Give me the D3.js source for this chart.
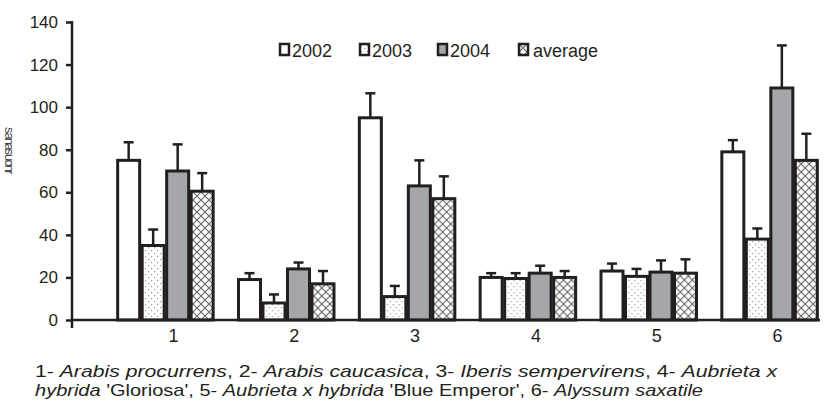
<!DOCTYPE html>
<html>
<head>
<meta charset="utf-8">
<script src="https://cdn.jsdelivr.net/npm/d3@7"></script>
<style>
  body { margin: 0; background: #fff; }
  svg { display: block; font-family: "Liberation Sans", Arial, sans-serif; }
</style>
</head>
<body>
<svg id="chart" width="825" height="404"></svg>
<script>
// data
var categories = ['1', '2', '3', '4', '5', '6'];
var series = ['2002', '2003', '2004', 'average'];
var v2002 = [75, 19, 95, 20, 23, 79];
var v2003 = [35, 8, 11, 19.5, 20.5, 38];
var v2004 = [70, 24, 63, 22, 22.5, 109];
var vAvg = [60.5, 17, 57, 20, 22, 75];
var e2002 = [8.5, 3, 11.5, 2, 3.5, 5.5];
var e2003 = [7.5, 4, 5, 2.5, 3.5, 5];
var e2004 = [12.5, 3, 12, 3.5, 5.5, 20];
var eAvg = [8.5, 6, 10.5, 3, 6.5, 12.5];
var yTicks = [0, 20, 40, 60, 80, 100, 120, 140];

var values = [v2002, v2003, v2004, vAvg];
var errors = [e2002, e2003, e2004, eAvg];

var svg = d3.select('#chart');
var ink = '#231f20';

// patterns for the bar fills
var defs = svg.append('defs');
var dots = defs.append('pattern').attr('id', 'dots').attr('patternUnits', 'userSpaceOnUse')
  .attr('width', 6).attr('height', 6);
dots.append('rect').attr('width', 6).attr('height', 6).attr('fill', '#fff');
dots.append('rect').attr('x', 1).attr('y', 1).attr('width', 1.2).attr('height', 1.2).attr('fill', '#999');
dots.append('rect').attr('x', 4).attr('y', 4).attr('width', 1.2).attr('height', 1.2).attr('fill', '#999');

var hatch = defs.append('pattern').attr('id', 'hatch').attr('patternUnits', 'userSpaceOnUse')
  .attr('width', 8).attr('height', 8);
hatch.append('rect').attr('width', 8).attr('height', 8).attr('fill', '#fff');
hatch.append('path').attr('d', 'M0,0L8,8M8,0L0,8').attr('stroke', '#666').attr('stroke-width', 1.1);

var fills = ['#fff', 'url(#dots)', '#a5a6a9', 'url(#hatch)'];

// scales
var x0 = d3.scaleBand().domain(categories).range([105, 830]);
var x1 = d3.scaleBand().domain(series)
  .range([(x0.bandwidth() - 98) / 2, (x0.bandwidth() + 98) / 2]);
var y = d3.scaleLinear().domain([0, 140]).range([320, 22]);

// bars
var groups = svg.append('g').selectAll('g').data(categories).enter().append('g')
  .attr('transform', function(d) { return 'translate(' + x0(d) + ',0)'; });

series.forEach(function(s, si) {
  var cx = x1(s) + x1.bandwidth() / 2;
  // error bars first so the bar outline covers the stem
  groups.append('line')
    .attr('x1', cx).attr('x2', cx)
    .attr('y1', function(d, i) { return y(values[si][i]); })
    .attr('y2', function(d, i) { return y(values[si][i] + errors[si][i]); })
    .attr('stroke', ink).attr('stroke-width', 2.5);
  groups.append('line')
    .attr('x1', cx - 5).attr('x2', cx + 5)
    .attr('y1', function(d, i) { return y(values[si][i] + errors[si][i]); })
    .attr('y2', function(d, i) { return y(values[si][i] + errors[si][i]); })
    .attr('stroke', ink).attr('stroke-width', 2.5);
  groups.append('rect')
    .attr('x', x1(s) + 1.25)
    .attr('width', x1.bandwidth() - 2.5)
    .attr('y', function(d, i) { return y(values[si][i]); })
    .attr('height', function(d, i) { return y(0) - y(values[si][i]); })
    .attr('fill', fills[si])
    .attr('stroke', ink).attr('stroke-width', 3);
});

// y axis
var yAxis = svg.append('g').attr('transform', 'translate(72,0)')
  .call(d3.axisLeft(y).tickValues(yTicks).tickSize(6).tickPadding(8).tickSizeOuter(0));
yAxis.select('.domain').remove();
yAxis.append('line').attr('x1', 0).attr('x2', 0).attr('y1', y(140) - 1).attr('y2', 328)
  .attr('stroke', ink).attr('stroke-width', 2.5);
yAxis.selectAll('.tick line').attr('stroke', ink).attr('stroke-width', 2.5);
yAxis.selectAll('.tick text').attr('fill', ink).style('font-size', '17px')
  .style('font-family', '"Liberation Sans", Arial, sans-serif');

// x axis
var xAxis = svg.append('g').attr('transform', 'translate(0,320)')
  .call(d3.axisBottom(x0).tickSize(0).tickPadding(9));
xAxis.select('.domain').remove();
xAxis.append('line').attr('x1', 72).attr('x2', 820).attr('y1', 0).attr('y2', 0)
  .attr('stroke', ink).attr('stroke-width', 2.5);
xAxis.selectAll('.tick text').attr('fill', ink).attr('dx', 8).style('font-size', '18px')
  .style('font-family', '"Liberation Sans", Arial, sans-serif');

// legend
var legendX = [280, 360, 438, 519];
var legend = svg.append('g').selectAll('g').data(series).enter().append('g')
  .attr('transform', function(d, i) { return 'translate(' + legendX[i] + ',44)'; });
legend.append('rect').attr('width', 9).attr('height', 11)
  .attr('fill', function(d, i) { return fills[i]; })
  .attr('stroke', ink).attr('stroke-width', 2.5);
legend.append('text').attr('x', function(d, i) { return i === 3 ? 14 : 12; }).attr('y', 13)
  .attr('fill', ink).style('font-size', '18px').text(function(d) { return d; });

// y label (sideways letters stacked, as in the reference)
var yLabel = 'sanasuonr';
var idx = d3.range(yLabel.length);
svg.append('text')
  .attr('x', idx.map(function() { return 5; }).join(' '))
  .attr('y', idx.map(function(i) { return 127 + i * 5.4; }).join(' '))
  .attr('rotate', 90)
  .attr('fill', '#444').style('font-size', '13px')
  .text(yLabel);

// caption
var cap1 = svg.append('text').attr('x', 35).attr('y', 377).attr('fill', ink)
  .style('font-size', '17px').attr('textLength', 742).attr('lengthAdjust', 'spacingAndGlyphs');
var parts1 = [['1- ', 0], ['Arabis procurrens', 1], [',  2- ', 0], ['Arabis caucasica', 1],
  [', 3- ', 0], ['Iberis sempervirens', 1], [',  4- ', 0], ['Aubrieta x', 1]];
parts1.forEach(function(p) {
  cap1.append('tspan').style('font-style', p[1] ? 'italic' : 'normal').text(p[0]);
});
var cap2 = svg.append('text').attr('x', 35).attr('y', 396).attr('fill', ink)
  .style('font-size', '17px').attr('textLength', 668).attr('lengthAdjust', 'spacingAndGlyphs');
var parts2 = [['hybrida', 1], [" 'Gloriosa',  5- ", 0], ['Aubrieta x hybrida', 1],
  [" 'Blue Emperor',  6- ", 0], ['Alyssum saxatile', 1]];
parts2.forEach(function(p) {
  cap2.append('tspan').style('font-style', p[1] ? 'italic' : 'normal').text(p[0]);
});
</script>
</body>
</html>
